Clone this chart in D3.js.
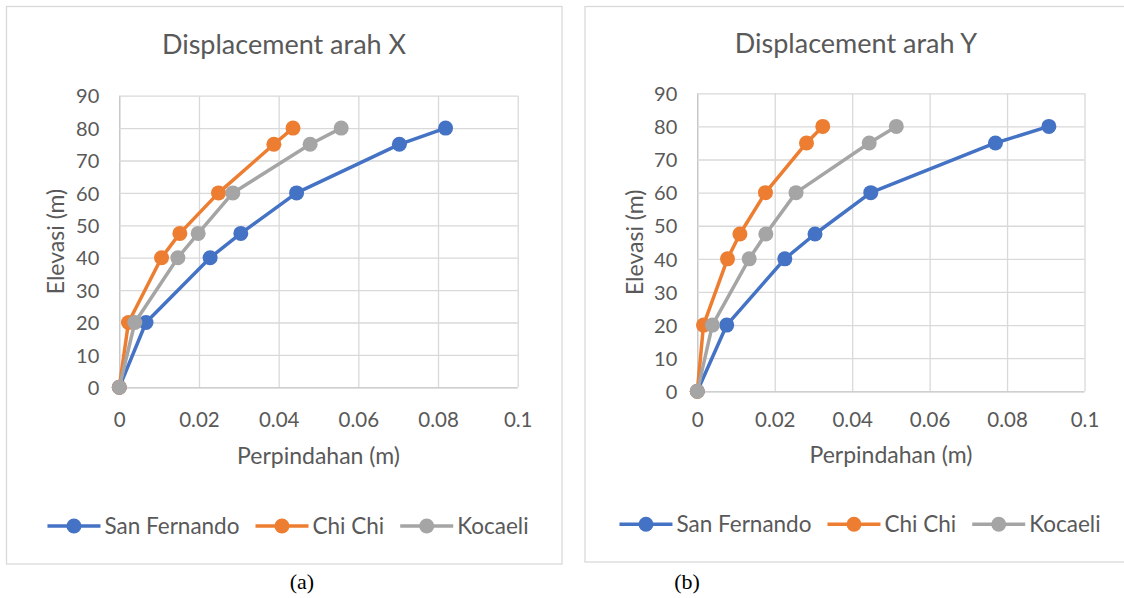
<!DOCTYPE html>
<html>
<head>
<meta charset="utf-8">
<script src="https://cdn.jsdelivr.net/npm/d3@7"></script>
<style>
  html, body { margin: 0; padding: 0; background: #fff; }
  svg { display: block; }
  text { font-family: Lato, "Open Sans", sans-serif; fill: #595959; }
</style>
</head>
<body>
<script>
// elevations shared by all series (m)
const elevasi = [0, 20, 40, 47.5, 60, 75, 80];

// displacement arah X (m)
const sanFernandoX = [0, 0.0067, 0.0228, 0.0305, 0.0445, 0.0703, 0.0819];
const chiChiX      = [0, 0.0023, 0.0106, 0.0152, 0.0249, 0.0388, 0.0436];
const kocaeliX     = [0, 0.0039, 0.0147, 0.0198, 0.0285, 0.0479, 0.0557];

// displacement arah Y (m)
const sanFernandoY = [0, 0.0076, 0.0226, 0.0304, 0.0448, 0.0770, 0.0908];
const chiChiY      = [0, 0.0016, 0.0078, 0.0110, 0.0176, 0.0282, 0.0324];
const kocaeliY     = [0, 0.0039, 0.0134, 0.0177, 0.0255, 0.0444, 0.0514];

const seriesNames = ["San Fernando", "Chi Chi", "Kocaeli"];
const seriesColors = ["#4472C4", "#ED7D31", "#A5A5A5"];
const xTicks = [0, 0.02, 0.04, 0.06, 0.08, 0.1];
const yTicks = [0, 10, 20, 30, 40, 50, 60, 70, 80, 90];

const width = 1124, height = 598;

const svg = d3.select("body").append("svg")
    .attr("width", width)
    .attr("height", height)
    .attr("viewBox", [0, 0, width, height]);

const panels = [
  {
    title: "Displacement arah X",
    caption: "(a)",
    values: [sanFernandoX, chiChiX, kocaeliX],
    box: [6.5, 6.5, 562, 564],
    plot: {left: 119.3, right: 517.7, top: 95.7, bottom: 387.3},
    titleX: 284, titleY: 54,
    xLabelY: 464, yLabelX: 56,
    tickY: 427,
    legendY: 526, legendX: 288,
    captionX: 302
  },
  {
    title: "Displacement arah Y",
    caption: "(b)",
    values: [sanFernandoY, chiChiY, kocaeliY],
    box: [585, 6.5, 1130, 562],
    plot: {left: 697.3, right: 1084.5, top: 93.3, bottom: 391.3},
    titleX: 856, titleY: 53,
    xLabelY: 463, yLabelX: 635,
    tickY: 427,
    legendY: 524.3, legendX: 860,
    captionX: 687
  }
];

const fmt = d => d === 0 ? "0" : String(+d.toFixed(2));

function drawPanel(p) {
  const g = svg.append("g");
  const [bx0, by0, bx1, by1] = p.box;

  g.append("rect")
      .attr("x", bx0).attr("y", by0)
      .attr("width", bx1 - bx0).attr("height", by1 - by0)
      .attr("fill", "#fff")
      .attr("stroke", "#D9D9D9")
      .attr("stroke-width", 1.3);

  const x = d3.scaleLinear().domain([0, 0.1]).range([p.plot.left, p.plot.right]);
  const y = d3.scaleLinear().domain([0, 90]).range([p.plot.bottom, p.plot.top]);

  // vertical grid + x tick labels
  g.append("g")
      .attr("transform", `translate(0,${p.plot.bottom})`)
      .call(d3.axisBottom(x).tickValues(xTicks).tickFormat(fmt)
          .tickSize(-(p.plot.bottom - p.plot.top)).tickSizeOuter(0))
      .call(a => a.select(".domain").remove())
      .call(a => a.selectAll(".tick line")
          .attr("stroke", d => d === 0 ? "#BFBFBF" : "#D9D9D9")
          .attr("stroke-width", 1.3))
      .call(a => a.selectAll(".tick text")
          .attr("y", p.tickY - p.plot.bottom)
          .attr("dy", null)
          .attr("fill", "#595959")
          .style("font-family", "Lato, sans-serif")
          .style("font-size", "20.5px"));

  // horizontal grid + y tick labels
  g.append("g")
      .attr("transform", `translate(${p.plot.left},0)`)
      .call(d3.axisLeft(y).tickValues(yTicks)
          .tickSize(-(p.plot.right - p.plot.left)).tickSizeOuter(0))
      .call(a => a.select(".domain").remove())
      .call(a => a.selectAll(".tick line")
          .attr("stroke", d => d === 0 ? "#BFBFBF" : "#D9D9D9")
          .attr("stroke-width", 1.3))
      .call(a => a.selectAll(".tick text")
          .attr("x", -20)
          .attr("dy", "0.36em")
          .attr("fill", "#595959")
          .style("font-family", "Lato, sans-serif")
          .style("font-size", "20px"));

  // title
  g.append("text")
      .attr("x", p.titleX).attr("y", p.titleY)
      .attr("text-anchor", "middle")
      .style("font-size", "27px")
      .text(p.title);

  // axis titles
  g.append("text")
      .attr("x", (p.plot.left + p.plot.right) / 2).attr("y", p.xLabelY)
      .attr("text-anchor", "middle")
      .style("font-size", "23px")
      .text("Perpindahan (m)");

  g.append("text")
      .attr("transform", `translate(${p.yLabelX},${(p.plot.top + p.plot.bottom) / 2}) rotate(-90)`)
      .attr("text-anchor", "middle")
      .attr("dy", "0.36em")
      .style("font-size", "23px")
      .text("Elevasi (m)");

  // series
  const line = d3.line()
      .x(d => x(d[0]))
      .y(d => y(d[1]));

  p.values.forEach((vals, i) => {
    const pts = vals.map((v, j) => [v, elevasi[j]]);
    g.append("path")
        .attr("fill", "none")
        .attr("stroke", seriesColors[i])
        .attr("stroke-width", 3.5)
        .attr("stroke-linejoin", "round")
        .attr("d", line(pts));
    g.selectAll(null)
        .data(pts)
        .join("circle")
          .attr("cx", d => x(d[0]))
          .attr("cy", d => y(d[1]))
          .attr("r", 7.5)
          .attr("fill", seriesColors[i]);
  });

  // legend
  const lg = g.append("g");
  const items = seriesNames.map((name, i) => {
    const it = lg.append("g");
    it.append("line")
        .attr("x1", 0).attr("x2", 53)
        .attr("stroke", seriesColors[i])
        .attr("stroke-width", 3.5);
    it.append("circle")
        .attr("cx", 26.5).attr("r", 7.5)
        .attr("fill", seriesColors[i]);
    const t = it.append("text")
        .attr("x", 57)
        .attr("dy", "0.36em")
        .style("font-size", "22.5px")
        .text(name);
    return {it, w: 57 + t.node().getComputedTextLength()};
  });
  const total = d3.sum(items, d => d.w) + 16 * (items.length - 1);
  let cx = p.legendX - total / 2;
  items.forEach(d => {
    d.it.attr("transform", `translate(${cx},${p.legendY})`);
    cx += d.w + 16;
  });

  // caption under the panel
  svg.append("text")
      .attr("x", p.captionX).attr("y", 589)
      .attr("text-anchor", "middle")
      .style("font-family", "'Liberation Serif', 'Times New Roman', serif")
      .style("font-size", "22px")
      .style("fill", "#000")
      .text(p.caption);
}

panels.forEach(drawPanel);
</script>
</body>
</html>
